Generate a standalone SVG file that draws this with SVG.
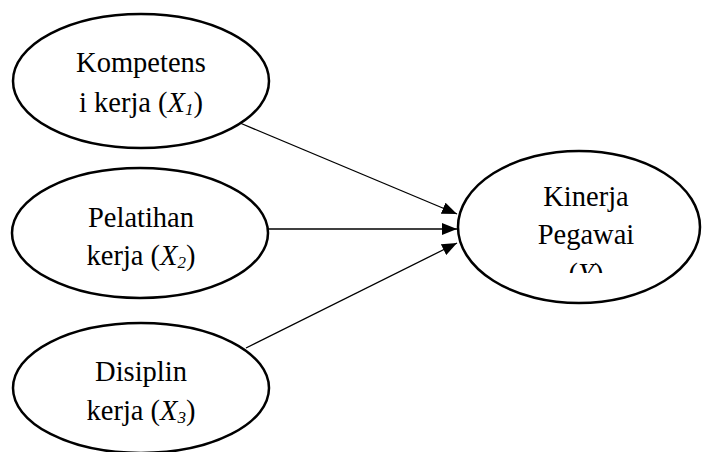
<svg xmlns="http://www.w3.org/2000/svg" width="702" height="452" viewBox="0 0 702 452">
<style>
.node ellipse{fill:#fff;stroke:#000;stroke-width:2.5}
.node text{font-family:"Liberation Serif","Times New Roman",serif;font-size:28.5px;fill:#000;text-anchor:middle}
.conn line{stroke:#000;stroke-width:1.3;fill:none}
</style>
<defs>
<marker id="ah" viewBox="0 0 15 12" refX="15" refY="6" markerWidth="15" markerHeight="12" markerUnits="userSpaceOnUse" orient="auto">
<path d="M0,0 L15,6 L0,12 Z" fill="#000"/>
</marker>
<clipPath id="clipY"><rect x="450" y="0" width="252" height="273"/></clipPath>
</defs>
<rect width="702" height="452" fill="#fff"/>
<g id="connectors" class="conn">
<line x1="240" y1="123" x2="457" y2="214" marker-end="url(#ah)"/>
<line x1="268" y1="229" x2="457" y2="229" marker-end="url(#ah)"/>
<line x1="246" y1="348" x2="457" y2="243" marker-end="url(#ah)"/>
</g>
<g id="node-x1" class="node">
<ellipse cx="141" cy="81" rx="128" ry="67"/>
<text x="141" y="72">Kompetens</text>
<text x="141" y="112">i kerja (<tspan font-style="italic">X<tspan font-size="17" dy="3">1</tspan></tspan><tspan dy="-3">)</tspan></text>
</g>
<g id="node-x2" class="node">
<ellipse cx="140" cy="233" rx="128" ry="65"/>
<text x="141" y="227">Pelatihan</text>
<text x="141" y="265">kerja (<tspan font-style="italic">X<tspan font-size="17" dy="3">2</tspan></tspan><tspan dy="-3">)</tspan></text>
</g>
<g id="node-x3" class="node">
<ellipse cx="141" cy="388" rx="128" ry="65"/>
<text x="141" y="381">Disiplin</text>
<text x="141" y="420">kerja (<tspan font-style="italic">X<tspan font-size="17" dy="3">3</tspan></tspan><tspan dy="-3">)</tspan></text>
</g>
<g id="node-y" class="node">
<ellipse cx="579" cy="227" rx="121" ry="76"/>
<text x="586" y="206">Kinerja</text>
<text x="586" y="244">Pegawai</text>
<text x="586" y="283" clip-path="url(#clipY)">(<tspan font-style="italic">Y</tspan>)</text>
</g>
</svg>
